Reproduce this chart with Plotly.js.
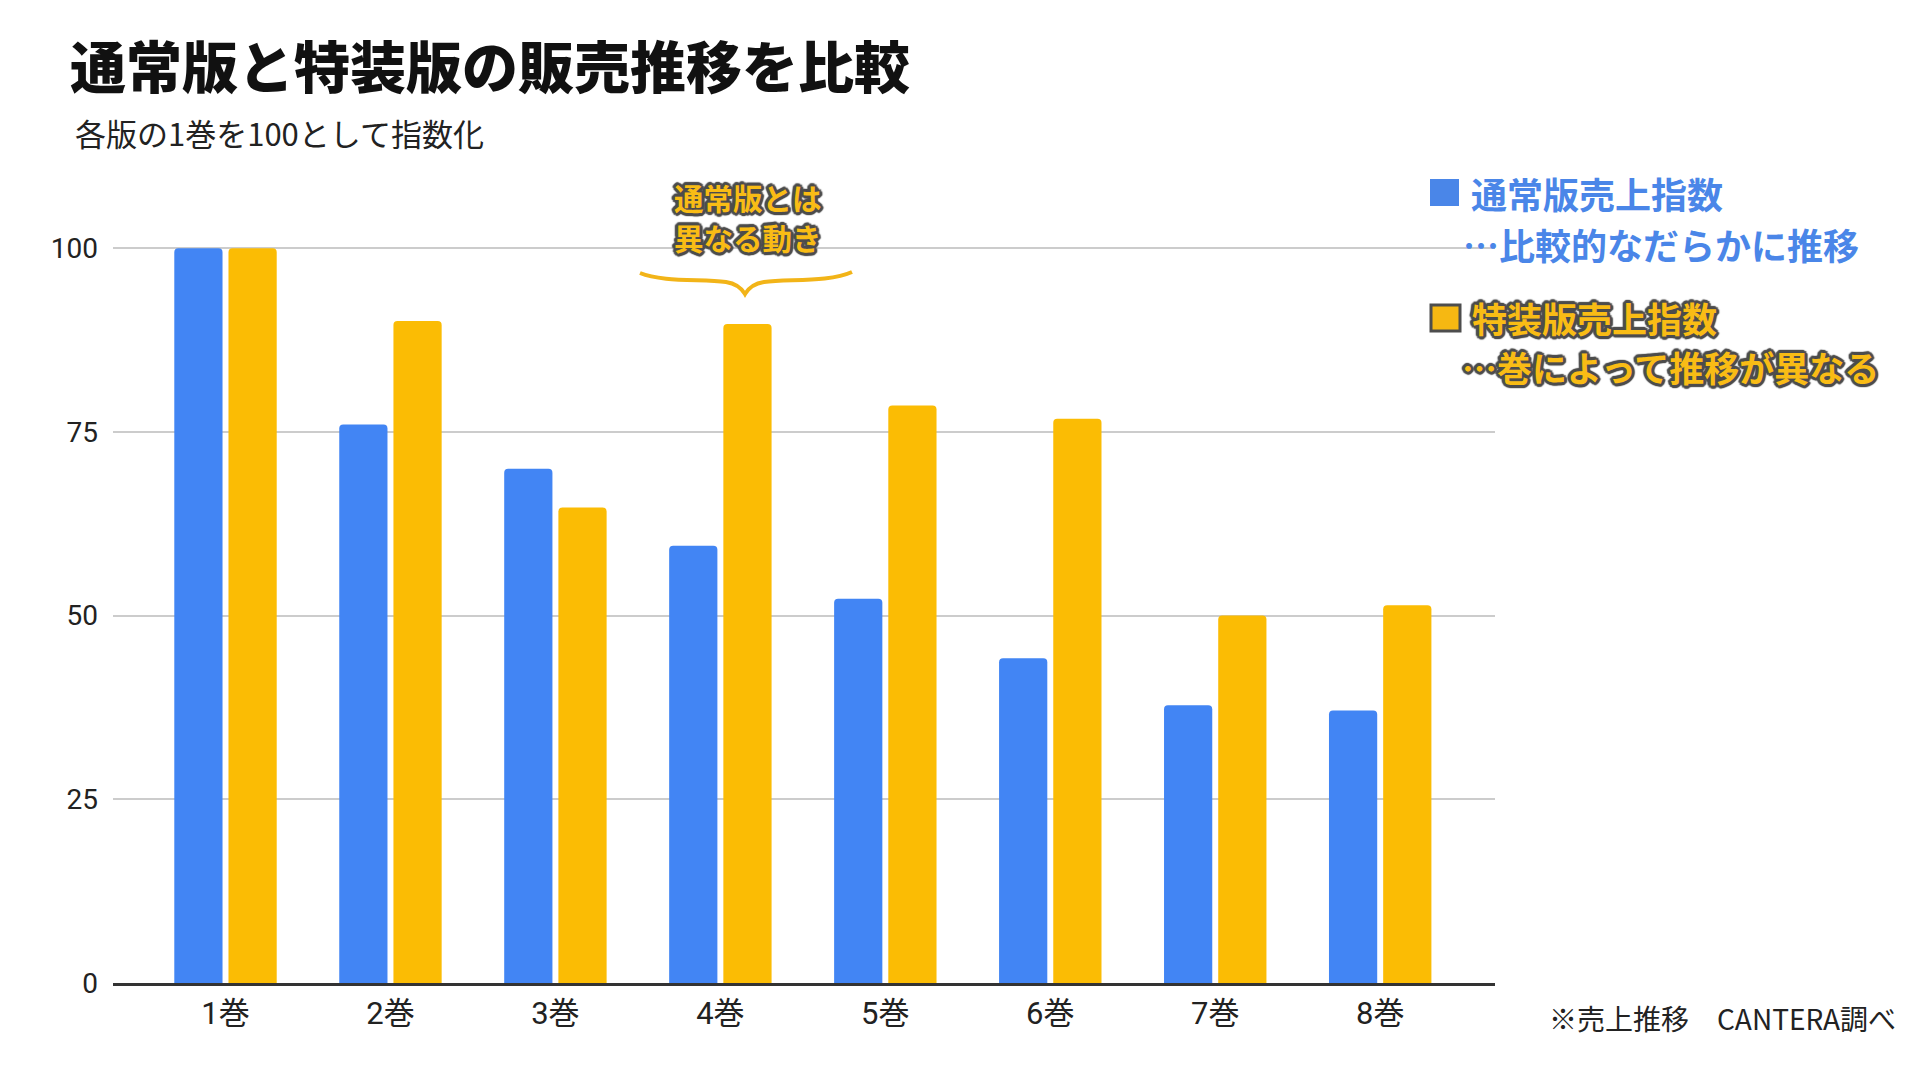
<!DOCTYPE html>
<html>
<head>
<meta charset="utf-8">
<script src="https://cdn.plot.ly/plotly-3.0.1.min.js"></script>
<style>
  html, body { margin: 0; padding: 0; background: #ffffff; }
  #chart { width: 1920px; height: 1080px; }
</style>
</head>
<body>
<div id="chart"></div>
<script>
var volumes = ['1巻', '2巻', '3巻', '4巻', '5巻', '6巻', '7巻', '8巻'];
var regularIndex = [100, 76, 70, 59.5, 52.3, 44.2, 37.8, 37.1];
var specialIndex = [100, 90.1, 64.7, 89.7, 78.6, 76.8, 50, 51.4];
var yTicks = [0, 25, 50, 75, 100];

var blue = '#4285F4';
var yellow = '#FBBC04';
var jp = '"Noto Sans CJK JP", "Noto Sans", sans-serif';
var num = 'Roboto, "Noto Sans CJK JP", sans-serif';

// plot area in page pixels
var plotL = 113, plotR = 1495, plotT = 246, plotB = 983;

// page pixel -> paper coords
function px(x) { return (x - plotL) / (plotR - plotL); }
function py(y) { return (plotB - y) / (plotB - plotT); }

var outline = '#4d4d4d 3px 0px 1px, #4d4d4d -3px 0px 1px, #4d4d4d 0px 3px 1px, #4d4d4d 0px -3px 1px, ' +
              '#4d4d4d 2px 2px 1px, #4d4d4d -2px -2px 1px, #4d4d4d 2px -2px 1px, #4d4d4d -2px 2px 1px, ' +
              '#4d4d4d 3px 1px 1px, #4d4d4d -3px -1px 1px, #4d4d4d 1px 3px 1px, #4d4d4d -1px -3px 1px';

var traceRegular = {
    x: volumes,
    y: regularIndex,
    name: '通常版売上指数',
    type: 'bar',
    marker: { color: blue, cornerradius: 4, line: { width: 0 } },
    hoverinfo: 'none'
};

var traceSpecial = {
    x: volumes,
    y: specialIndex,
    name: '特装版売上指数',
    type: 'bar',
    marker: { color: yellow, cornerradius: 4, line: { width: 0 } },
    hoverinfo: 'none'
};

// curly brace above 4巻
function bracePath() {
    var pts = [
        'M', px(640), py(273),
        'C', px(662), py(282), px(700), py(279), px(726), py(282),
        'Q', px(739), py(284), px(745), py(294),
        'Q', px(751), py(284), px(764), py(282),
        'C', px(790), py(279), px(830), py(282), px(852), py(272)
    ];
    return pts.join(' ');
}

function note(text, x, y, size, color, anchor, extra) {
    var font = { family: jp, size: size, color: color, weight: 'bold' };
    if (extra) font.shadow = extra;
    return {
        text: text, xref: 'paper', yref: 'paper', x: px(x), y: py(y),
        xanchor: anchor, yanchor: 'middle', showarrow: false, font: font
    };
}

var layout = {
    width: 1920,
    height: 1080,
    paper_bgcolor: '#ffffff',
    plot_bgcolor: '#ffffff',
    margin: { l: plotL, r: 1920 - plotR, t: plotT, b: 1080 - plotB, pad: 0 },
    showlegend: false,
    hovermode: false,
    barmode: 'group',
    bargap: 0.343,
    bargroupgap: 0.11,
    title: {
        text: '通常版と特装版の販売推移を比較',
        x: 70 / 1920,
        xanchor: 'left',
        xref: 'container',
        y: 1 - 68 / 1080,
        yanchor: 'middle',
        yref: 'container',
        font: { family: jp, size: 56, color: '#111111', weight: 900 }
    },
    xaxis: {
        type: 'category',
        range: [-0.682, 7.696],
        showgrid: false,
        zeroline: false,
        showline: true,
        linecolor: '#333333',
        linewidth: 2.5,
        ticks: '',
        ticklabelstandoff: 1,
        tickfont: { family: num, size: 31, color: '#222222' }
    },
    yaxis: {
        range: [0, 100.3],
        tickvals: yTicks,
        ticktext: yTicks.map(String),
        showgrid: true,
        gridcolor: '#cccccc',
        gridwidth: 2,
        zeroline: false,
        showline: false,
        ticks: '',
        ticklabelstandoff: 14,
        tickfont: { family: num, size: 28, color: '#222222' }
    },
    shapes: [
        {
            type: 'path', xref: 'paper', yref: 'paper', layer: 'above',
            path: bracePath(),
            line: { color: '#F2B418', width: 4 }
        },
        {
            type: 'rect', xref: 'paper', yref: 'paper',
            x0: px(1430), x1: px(1459), y0: py(206), y1: py(179),
            fillcolor: '#4A86E8', line: { width: 0 }
        },
        {
            type: 'rect', xref: 'paper', yref: 'paper',
            x0: px(1431), x1: px(1460), y0: py(331), y1: py(305),
            fillcolor: '#F6B812', line: { color: '#4d4d4d', width: 3 }
        }
    ],
    annotations: [
        {
            text: '各版の1巻を100として指数化',
            xref: 'paper', yref: 'paper', x: px(73), y: py(133),
            xanchor: 'left', yanchor: 'middle', showarrow: false,
            font: { family: jp, size: 31, color: '#222222' }
        },
        note('通常版とは', 748, 197, 29.5, '#F9BC15', 'center', outline),
        note('異なる動き', 748, 237, 29.5, '#F9BC15', 'center', outline),
        note('通常版売上指数', 1469, 193, 36, '#4A86E8', 'left'),
        note('…比較的なだらかに推移', 1461, 244, 36, '#4A86E8', 'left'),
        note('特装版売上指数', 1470, 317, 35, '#F9BC15', 'left', outline),
        note('…巻によって推移が異なる', 1460, 366, 35, '#F9BC15', 'left', outline),
        {
            text: '※売上推移　CANTERA調べ',
            xref: 'paper', yref: 'paper', x: px(1547), y: py(1018),
            xanchor: 'left', yanchor: 'middle', showarrow: false,
            font: { family: jp, size: 28, color: '#222222' }
        }
    ]
};

Plotly.newPlot('chart', [traceRegular, traceSpecial], layout, { displayModeBar: false, staticPlot: true });
</script>
</body>
</html>
